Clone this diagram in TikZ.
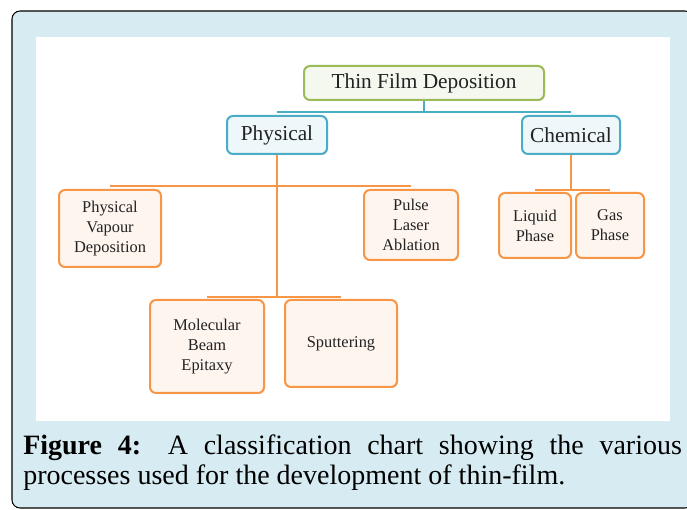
\documentclass[tikz,border=0pt]{standalone}
\usepackage{fontspec}
\setmainfont{Liberation Serif}
\usetikzlibrary{shadows}
\definecolor{panelblue}{HTML}{D7ECF2}
\definecolor{greenline}{HTML}{9BBB59}
\definecolor{greenfill}{HTML}{F4F8EE}
\definecolor{blueline}{HTML}{4BACC6}
\definecolor{bluefill}{HTML}{EEF7FA}
\definecolor{orangeline}{HTML}{F79646}
\definecolor{orangefill}{HTML}{FEF5EE}
\definecolor{inktext}{HTML}{222222}
\tikzstyle{chartbox} = [rounded corners=4.5pt,line width=1.5pt,inner sep=0pt,align=center,
  text=inktext,drop shadow={opacity=0.2,shadow xshift=0.8pt,shadow yshift=-0.8pt}]
\tikzstyle{rootnode} = [chartbox,draw=greenline,fill=greenfill,font=\fontsize{16}{19}\selectfont]
\tikzstyle{kindnode} = [chartbox,draw=blueline,fill=bluefill,font=\fontsize{16}{19}\selectfont]
\tikzstyle{procnode} = [chartbox,draw=orangeline,fill=orangefill,font=\fontsize{12.3}{15}\selectfont]
\tikzstyle{blueedge} = [draw=blueline,line width=1.2pt]
\tikzstyle{orangeedge} = [draw=orangeline,line width=1.2pt]
\tikzstyle{captext} = [anchor=base west,inner sep=0pt,text=black,font=\fontsize{21}{22.5}\selectfont]

\begin{document}
\begin{tikzpicture}[x=0.75pt,y=-0.75pt]
  \useasboundingbox (0,0) rectangle (687,510);
  % panel and white drawing area
  \draw[fill=panelblue,line width=0.8pt,rounded corners=6pt] (12,11) rectangle (693,508);
  \fill[white] (36,37) rectangle (670,421);

  % boxes
  \node[rootnode,minimum width=180pt,minimum height=25.5pt] (root) at (424,83) {Thin Film Deposition};
  \node[kindnode,minimum width=75pt,minimum height=28.5pt] (physical) at (277,135) {Physical};
  \node[kindnode,minimum width=73.5pt,minimum height=28.5pt] (chemical) at (571,135) {Chemical};
  \node[procnode,minimum width=76.5pt,minimum height=57.75pt] (pvd) at (110,228.5) {Physical\\Vapour\\Deposition};
  \node[procnode,minimum width=70.5pt,minimum height=52.5pt] (pla) at (411,225) {Pulse\\Laser\\Ablation};
  \node[procnode,minimum width=85.5pt,minimum height=69.75pt] (mbe) at (207,346.5) {Molecular\\Beam\\Epitaxy};
  \node[procnode,minimum width=84pt,minimum height=65.25pt] (sputter) at (341,343.5) {Sputtering};
  \node[procnode,minimum width=54pt,minimum height=48.75pt] (liquid) at (535,225.5) {Liquid\\Phase};
  \node[procnode,minimum width=51pt,minimum height=48.75pt] (gas) at (610,225.5) {Gas\\Phase};

  % junction points
  \path (root.south) ++(0,11) coordinate (rootbar);
  \path (physical.south) ++(0,31) coordinate (physbar);
  \path (physical.south) ++(0,142) coordinate (physlow);
  \path (chemical.south) ++(0,35) coordinate (chembar);

  % connectors
  \draw[blueedge] (root.south) -- (rootbar);
  \draw[blueedge] (physical.north |- rootbar) -- (chemical.north |- rootbar);
  \draw[orangeedge] (physical.south) -- (physlow);
  \draw[orangeedge] (pvd.north |- physbar) -- (pla.north |- physbar);
  \draw[orangeedge] (mbe.north |- physlow) -- (sputter.north |- physlow);
  \draw[orangeedge] (chemical.south) -- (chembar);
  \draw[orangeedge] (liquid.north |- chembar) -- (gas.north |- chembar);

  % caption
  \node[captext] (capone) at (23,455)
    {\makebox[494pt][s]{\textbf{Figure 4:} A classification chart showing the various}};
  \node[captext] (captwo) at (23,484) {processes used for the development of thin-film.};
\end{tikzpicture}
\end{document}
